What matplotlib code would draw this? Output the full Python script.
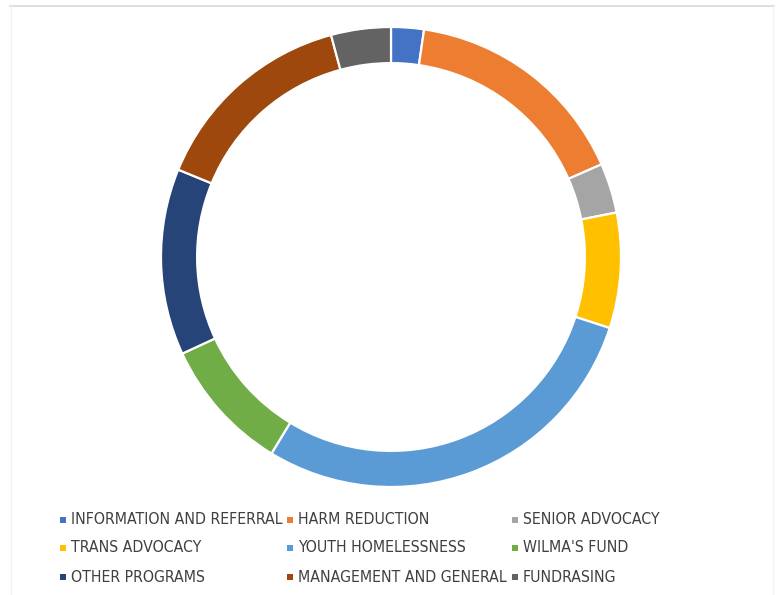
import matplotlib
matplotlib.use("Agg")
import matplotlib.pyplot as plt
from matplotlib.patches import Rectangle
from matplotlib.lines import Line2D

# program share (%), clockwise from 12 o'clock
labels = ["INFORMATION AND REFERRAL", "HARM REDUCTION", "SENIOR ADVOCACY",
          "TRANS ADVOCACY", "YOUTH HOMELESSNESS", "WILMA'S FUND",
          "OTHER PROGRAMS", "MANAGEMENT AND GENERAL", "FUNDRASING"]
values = [2.3, 16.1, 3.5, 8.1, 28.7, 9.4, 13.1, 14.6, 4.2]
colors = ["#4472C4", "#ED7D31", "#A5A5A5", "#FFC000", "#5B9BD5",
          "#70AD47", "#264478", "#9E480E", "#636363"]

W, H = 777, 595
fig = plt.figure(figsize=(W / 100, H / 100), dpi=100)

# faint chart frame
fig.add_artist(Line2D([10 / W, 774 / W], [1 - 6 / H, 1 - 6 / H], color="#d9d9d9", lw=1.2))
fig.add_artist(Line2D([11 / W, 11 / W], [1 - 6 / H, 0], color="#f0f0f0", lw=1))
fig.add_artist(Line2D([773 / W, 773 / W], [1 - 6 / H, 0], color="#f3f3f3", lw=1))

# donut
cx, cy, R = 391, 257, 230
ax = fig.add_axes([(cx - R) / W, (H - cy - R) / H, 2 * R / W, 2 * R / H])
ax.pie(values, colors=colors, startangle=90, counterclock=False, radius=1,
       wedgeprops=dict(width=0.157, edgecolor="white", linewidth=1.6))
ax.set_xlim(-1, 1)
ax.set_ylim(-1, 1)
ax.set_aspect("auto")
ax.axis("off")

# legend, 3 columns filled row by row
col_x = [63, 290, 515]
row_y = [520, 548, 577]
for i, (lab, c) in enumerate(zip(labels, colors)):
    r, k = divmod(i, 3)
    x, y = col_x[k], row_y[r]
    fig.add_artist(Rectangle(((x - 3) / W, (H - y - 3) / H), 6 / W, 6 / H,
                             transform=fig.transFigure, color=c, lw=0))
    fig.text((x + 8) / W, (H - y) / H, lab, fontsize=11.3, color="#404040",
             va="center", ha="left", family="DejaVu Sans", fontstretch="condensed")

fig.savefig("out.png", dpi=100, facecolor="white")
